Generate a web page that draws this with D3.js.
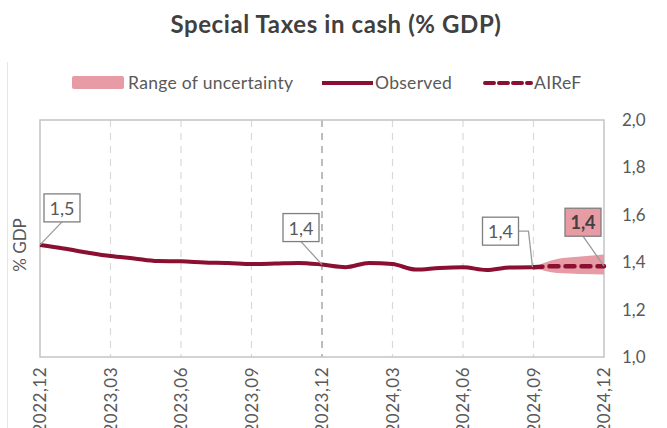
<!DOCTYPE html>
<html>
<head>
<meta charset="utf-8">
<script src="https://cdn.jsdelivr.net/npm/d3@7"></script>
<style>
  body { margin: 0; background: #fff; }
  text { font-family: Lato, "Open Sans", sans-serif; fill: #595959; }
</style>
</head>
<body>
<div class="chart"></div>
<script>
// monthly periods, 2022,12 .. 2024,12
var months = ["2022,12","2023,01","2023,02","2023,03","2023,04","2023,05","2023,06",
  "2023,07","2023,08","2023,09","2023,10","2023,11","2023,12","2024,01","2024,02",
  "2024,03","2024,04","2024,05","2024,06","2024,07","2024,08","2024,09","2024,10",
  "2024,11","2024,12"];

var observed = [1.473,1.458,1.441,1.426,1.416,1.405,1.404,1.399,1.397,1.392,1.394,
  1.397,1.390,1.379,1.397,1.392,1.369,1.376,1.379,1.367,1.378,1.379];

// forecast starts at 2024,09 (index 21)
var forecastStart = 21;
var forecast = [1.379,1.383,1.383,1.383];
var bandLow  = [1.379,1.354,1.350,1.348];
var bandHigh = [1.379,1.413,1.424,1.432];

var tickMonths = ["2022,12","2023,03","2023,06","2023,09","2023,12","2024,03","2024,06","2024,09","2024,12"];
var yTicks = [1.0,1.2,1.4,1.6,1.8,2.0];

var maroon = "#8a0f30", pink = "#e69ba5", grey = "#595959";

var W = 667, H = 428;
var svg = d3.select(".chart")
  .append("svg")
  .attr("width", W)
  .attr("height", H)

var x = d3.scaleLinear().domain([0, months.length - 1]).range([40, 604]);
var y = d3.scaleLinear().domain([1.0, 2.0]).range([357, 120]);

// faint outer frame line
svg.append("line")
  .attr("x1", 7.5).attr("x2", 7.5).attr("y1", 62).attr("y2", H)
  .style("stroke", "#e6e6e6")

// title
svg.append("text")
  .attr("x", 336).attr("y", 33)
  .attr("text-anchor", "middle")
  .style("font-size", "24px")
  .style("font-weight", "bold")
  .style("letter-spacing", "0.6px")
  .style("fill", "#404040")
  .text("Special Taxes in cash (% GDP)")

// legend
var legend = svg.append("g").attr("class", "legend")
legend.append("rect")
  .attr("x", 72).attr("y", 76).attr("width", 52).attr("height", 13)
  .attr("rx", 2)
  .style("fill", pink)
legend.selectAll("text")
  .data([{ x: 128, t: "Range of uncertainty" }, { x: 375, t: "Observed" }, { x: 534, t: "AIReF" }])
  .enter()
  .append("text")
  .attr("x", function(d) { return d.x; }).attr("y", 89)
  .style("font-size", "17.5px").style("letter-spacing", "0.3px")
  .text(function(d) { return d.t; })
legend.append("line")
  .attr("x1", 322).attr("x2", 373).attr("y1", 83).attr("y2", 83)
  .style("stroke", maroon).style("stroke-width", 4)
legend.append("line")
  .attr("x1", 485).attr("x2", 531).attr("y1", 83).attr("y2", 83)
  .style("stroke", maroon).style("stroke-width", 4)
  .style("stroke-dasharray", "9,5").style("stroke-linecap", "round")

// vertical dashed gridlines at quarters
svg.append("g")
  .selectAll("line")
  .data(tickMonths.slice(1, -1))
  .enter()
  .append("line")
  .attr("x1", function(d) { return x(months.indexOf(d)); })
  .attr("x2", function(d) { return x(months.indexOf(d)); })
  .attr("y1", 120).attr("y2", 357)
  .style("stroke", function(d) { return d == "2023,12" ? "#bdbdbd" : "#d9d9d9"; })
  .style("stroke-width", function(d) { return d == "2023,12" ? 2 : 1.2; })
  .style("stroke-dasharray", "7,6")

// plot frame
svg.append("rect")
  .attr("x", 40).attr("y", 120).attr("width", 564).attr("height", 237)
  .style("fill", "none").style("stroke", "#c4c4c4").style("stroke-width", 1.5)

// y axis on the right
var yAxis = svg.append("g")
  .attr("transform", "translate(617,0)")
  .call(d3.axisRight(y).tickValues(yTicks).tickSize(0).tickPadding(5)
    .tickFormat(function(d) { return d3.format(".1f")(d).replace(".", ","); }))
yAxis.select(".domain").remove()
yAxis.selectAll("text").style("font-size", "17px").style("fill", grey)
  .style("font-family", "Lato, 'Open Sans', sans-serif")

// x axis labels, rotated
var xAxis = svg.append("g")
  .attr("transform", "translate(0,357)")
  .call(d3.axisBottom(x).tickValues(tickMonths.map(function(d) { return months.indexOf(d); }))
    .tickSize(0).tickFormat(function(i) { return months[i]; }))
xAxis.select(".domain").remove()
xAxis.selectAll("text")
  .attr("transform", "rotate(-90)")
  .attr("x", -10).attr("y", 0).attr("dy", "0.35em")
  .style("text-anchor", "end")
  .style("font-size", "17px").style("letter-spacing", "0.5px").style("fill", grey)
  .style("font-family", "Lato, 'Open Sans', sans-serif")

// y axis title
svg.append("text")
  .attr("transform", "translate(26,245) rotate(-90)")
  .attr("text-anchor", "middle")
  .style("font-size", "17px")
  .text("% GDP")

// uncertainty band
var bandData = bandLow.map(function(d, k) { return { i: forecastStart + k, lo: d, hi: bandHigh[k] }; });
svg.append("path")
  .datum(bandData)
  .attr("d", d3.area().curve(d3.curveMonotoneX)
    .x(function(d) { return x(d.i); })
    .y0(function(d) { return y(d.lo); })
    .y1(function(d) { return y(d.hi); }))
  .style("fill", pink)

// observed line
svg.append("path")
  .datum(observed)
  .attr("d", d3.line().curve(d3.curveMonotoneX)
    .x(function(d, i) { return x(i); })
    .y(function(d) { return y(d); }))
  .style("fill", "none").style("stroke", maroon).style("stroke-width", 4)

// AIReF forecast
svg.append("path")
  .datum(forecast)
  .attr("d", d3.line().curve(d3.curveMonotoneX)
    .x(function(d, k) { return x(forecastStart + k); })
    .y(function(d) { return y(d); }))
  .style("fill", "none").style("stroke", maroon).style("stroke-width", 4.5)
  .style("stroke-dasharray", "9,7").style("stroke-linecap", "round")

// data labels
var labels = [
  { i: 0, v: observed[0], dx: 4, dy: -51, fill: "#fff", bold: false, elbow: false },
  { i: 12, v: observed[12], dx: -39, dy: -51, fill: "#fff", bold: false, elbow: false },
  { i: 21, v: observed[21], dx: -51, dy: -50, fill: "#fff", bold: false, elbow: true },
  { i: 24, v: forecast[3], dx: -39, dy: -58, fill: pink, bold: true, elbow: false }
];
var lab = svg.append("g")
lab.selectAll("g")
  .data(labels)
  .enter()
  .append("g")
  .each(function(d) {
    var g = d3.select(this);
    var px = x(d.i), py = y(d.v);
    var bx = px + d.dx, by = py + d.dy, bw = 36, bh = 28;
    var pts = d.elbow
      ? [[bx + bw, by + bh / 2], [bx + bw + 10, by + bh / 2], [px - 1, py]]
      : [[bx + bw / 2, by + bh], [px, py]];
    g.append("path")
      .attr("d", d3.line()(pts))
      .style("fill", "none").style("stroke", "#9a9a9a").style("stroke-width", 1.3)
    g.append("rect")
      .attr("x", bx).attr("y", by).attr("width", bw).attr("height", bh)
      .style("fill", d.fill).style("stroke", "#7f7f7f").style("stroke-width", 1.3)
    g.append("text")
      .attr("x", bx + bw / 2).attr("y", by + 21)
      .attr("text-anchor", "middle")
      .style("font-size", "18px")
      .style("font-weight", d.bold ? "bold" : "normal")
      .style("fill", d.bold ? "#404040" : grey)
      .text(d3.format(".1f")(d.v).replace(".", ","))
  })
</script>
</body>
</html>
